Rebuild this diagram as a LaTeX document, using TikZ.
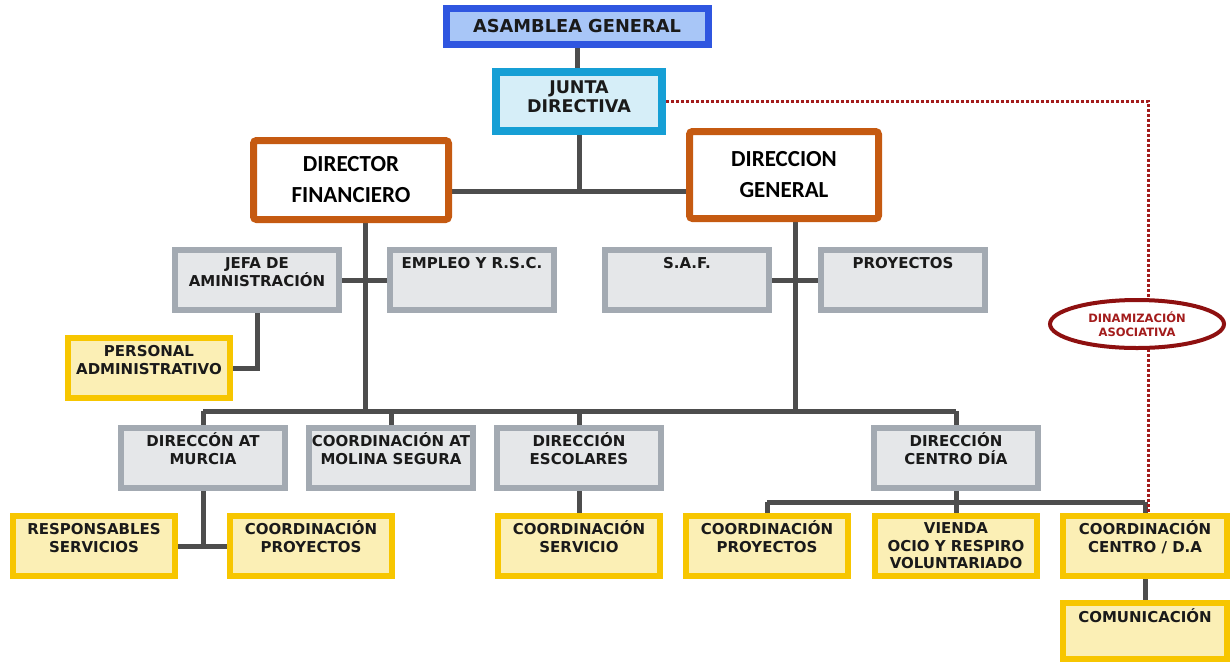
\documentclass[tikz,border=0pt]{standalone}
\usepackage{fontspec}
\setmainfont{DejaVu Sans}
\newfontfamily\calib{Carlito}
\usepackage{tikz}
\usetikzlibrary{positioning, backgrounds, shapes.geometric}

\definecolor{azul}{RGB}{47,86,224}
\definecolor{azulf}{RGB}{168,198,247}
\definecolor{cian}{RGB}{22,159,213}
\definecolor{cianf}{RGB}{214,238,248}
\definecolor{naranja}{RGB}{197,90,17}
\definecolor{gris}{RGB}{163,170,178}
\definecolor{grisf}{RGB}{229,231,233}
\definecolor{amar}{RGB}{247,198,0}
\definecolor{amarf}{RGB}{251,239,181}
\definecolor{linea}{RGB}{77,77,77}
\definecolor{rojo}{RGB}{163,28,28}
\definecolor{rojoe}{RGB}{142,16,16}
\definecolor{texto}{RGB}{26,26,26}

\begin{document}
\begin{tikzpicture}[x=1pt,y=-1pt,
  gbox/.style={draw=gris, fill=grisf, line width=6pt, minimum width=164pt,
    minimum height=60pt, inner sep=0pt, align=center, text=texto,
    font=\bfseries\fontsize{15}{17.5}\selectfont, text height=10.9pt, text depth=33.1pt},
  ybox/.style={gbox, draw=amar, fill=amarf, minimum width=162pt},
  dos/.style={text height=28.4pt, text depth=15.6pt},
  tres/.style={text height=45.9pt, text depth=0pt},
  obox/.style={draw=naranja, fill=white, line width=7pt, rounded corners=3pt,
    inner sep=0pt, align=center, text=black,
    font=\calib\bfseries\fontsize{23}{31}\selectfont},
  link/.style={draw=linea, line width=5pt},
  dotlink/.style={draw=rojo, line width=3pt, dash pattern=on 3pt off 2pt},
  elip/.style={ellipse, draw=rojoe, fill=white, line width=4pt, minimum width=174pt,
    minimum height=48pt, inner sep=0pt, align=center, text=rojo,
    font=\bfseries\fontsize{11.5}{14}\selectfont},
]
\useasboundingbox (0,0) rectangle (1231,665);

% top
\node[draw=azul, fill=azulf, line width=7pt, minimum width=262pt, minimum height=36pt,
  text=texto, font=\bfseries\fontsize{17.8}{20}\selectfont] (asamblea) at (577,26) {ASAMBLEA GENERAL};
\node[draw=cian, fill=cianf, line width=8pt, minimum width=166pt, minimum height=59pt,
  align=center, text=texto, font=\bfseries\fontsize{17.5}{18.5}\selectfont,
  text height=31pt, text depth=9pt] (junta) at (579,101) {JUNTA\\DIRECTIVA};
\node[obox, minimum width=195pt, minimum height=79pt] (df) at (351,180) {DIRECTOR\\FINANCIERO};
\node[obox, minimum width=189pt, minimum height=87pt] (dg) at (784,175) {DIRECCION\\GENERAL};

% first gray row
\node[gbox, dos] (jefa) at (257,280) {JEFA DE\\AMINISTRACIÓN};
\node[gbox] (empleo) at (472,280) {EMPLEO Y R.S.C.};
\node[gbox] (saf) at (687,280) {S.A.F.};
\node[gbox] (proy) at (903,280) {PROYECTOS};
\node[ybox, dos] (personal) at (149,368) {PERSONAL\\ADMINISTRATIVO};

% second gray row
\node[gbox, dos] (murcia) at (203,458) {DIRECCÓN AT\\MURCIA};
\node[gbox, dos] (molina) at (391,458) {COORDINACIÓN AT\\MOLINA SEGURA};
\node[gbox, dos] (escol) at (579,458) {DIRECCIÓN\\ESCOLARES};
\node[gbox, dos] (cdia) at (956,458) {DIRECCIÓN\\CENTRO DÍA};

% yellow row
\node[ybox, dos] (resp) at (94,546) {RESPONSABLES\\SERVICIOS};
\node[ybox, dos] (cproyL) at (311,546) {COORDINACIÓN\\PROYECTOS};
\node[ybox, dos] (cserv) at (579,546) {COORDINACIÓN\\SERVICIO};
\node[ybox, dos] (cproyR) at (767,546) {COORDINACIÓN\\PROYECTOS};
\node[ybox, tres] (vienda) at (956,546) {VIENDA\\OCIO Y RESPIRO\\VOLUNTARIADO};
\node[ybox, dos, minimum width=164pt] (ccentro) at (1145,546) {COORDINACIÓN\\CENTRO / D.A};
\node[ybox, minimum width=164pt, minimum height=56pt, text depth=27pt] (comun) at (1145,631) {COMUNICACIÓN};

\coordinate (jd) at (579,191);
\coordinate (bus) at (0,411);
\coordinate (bus2) at (0,502);
\coordinate (dfx) at (365,0);
\coordinate (dgx) at (795,0);
\coordinate (dax) at (1148,0);

\begin{scope}[on background layer]
\draw[link] (asamblea.south) -- (asamblea.south |- junta.north);
\draw[link] (junta.south) -- (junta.south |- jd);
\draw[link] (df.east |- jd) -- (dg.west |- jd);
\draw[link] (df.south -| dfx) -- (dfx |- bus);
\draw[link] (dg.south -| dgx) -- (dgx |- bus);
\draw[link] (jefa.east) -- (empleo.west);
\draw[link] (saf.east) -- (proy.west);
\draw[link] (jefa.south) |- (personal.east);
\draw[link] (murcia.north |- bus) -- (cdia.north |- bus);
\foreach \n in {murcia,molina,escol,cdia}
  \draw[link] (\n.north) -- (\n.north |- bus);
\draw[link] (murcia.south) -- (murcia.south |- resp.east);
\draw[link] (resp.east) -- (cproyL.west);
\draw[link] (escol.south) -- (cserv.north);
\draw[link] (cdia.south) -- (vienda.north);
\draw[link] (cproyR.north |- bus2) -- (ccentro.north |- bus2);
\foreach \n in {cproyR,ccentro}
  \draw[link] (\n.north) -- (\n.north |- bus2);
\draw[link] (ccentro.south) -- (comun.north);
\draw[dotlink] (junta.east) -- (junta.east -| dax) -- (dax |- ccentro.north);
\end{scope}

\node[elip] (dinam) at (1137,324) {DINAMIZACIÓN\\ASOCIATIVA};
\end{tikzpicture}
\end{document}
